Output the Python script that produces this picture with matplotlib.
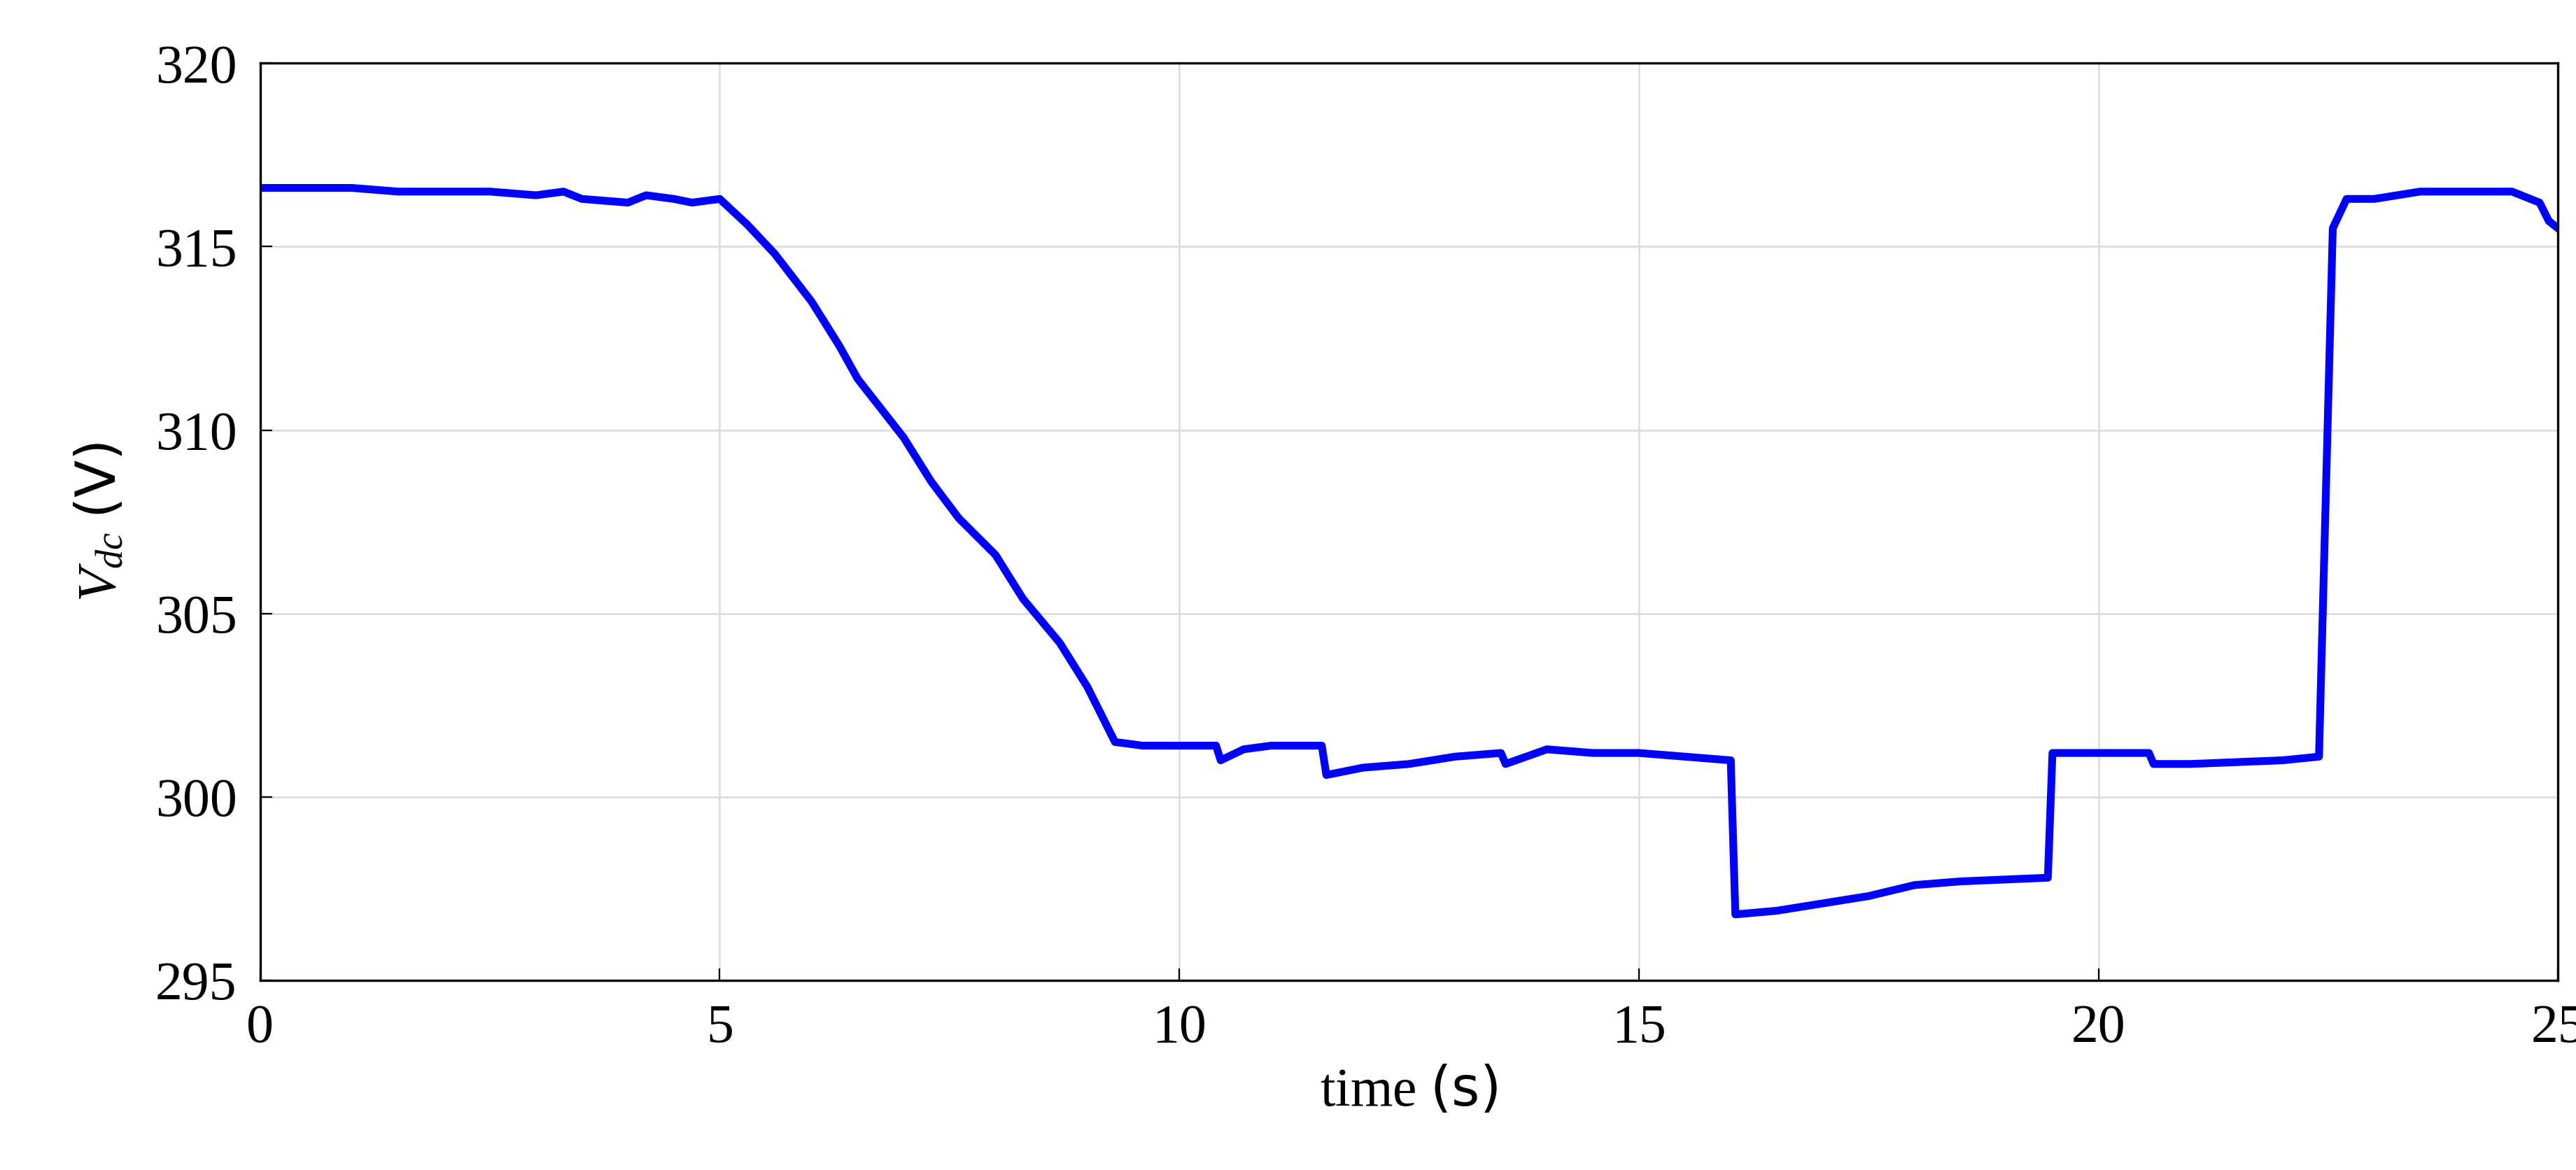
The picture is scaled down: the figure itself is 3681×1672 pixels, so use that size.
import matplotlib.pyplot as plt

# 读取图中的数据点（估计值）
t = [0, 0.5, 1, 1.5, 2, 2.5, 3, 3.3, 3.5, 4, 4.2, 4.5, 4.7, 5, 5.3, 5.6, 6, 6.3, 6.5, 7,
     7.3, 7.6, 8, 8.3, 8.7, 9, 9.3, 9.6, 10, 10.4, 10.45, 10.7, 11, 11.55, 11.6, 12, 12.5,
     13, 13.5, 13.55, 14, 14.5, 15, 15.5, 16, 16.05, 16.5, 17, 17.5, 18, 18.5, 19.45,
     19.5, 20, 20.55, 20.6, 21, 22, 22.4, 22.55, 22.7, 23, 23.5, 24, 24.5, 24.8, 24.9, 25]
vdc = [316.6, 316.6, 316.6, 316.5, 316.5, 316.5, 316.4, 316.5, 316.3, 316.2, 316.4, 316.3,
       316.2, 316.3, 315.6, 314.8, 313.5, 312.3, 311.4, 309.8, 308.6, 307.6, 306.6, 305.4,
       304.2, 303.0, 301.5, 301.4, 301.4, 301.4, 301.0, 301.3, 301.4, 301.4, 300.6, 300.8,
       300.9, 301.1, 301.2, 300.9, 301.3, 301.2, 301.2, 301.1, 301.0, 296.8, 296.9, 297.1,
       297.3, 297.6, 297.7, 297.8, 301.2, 301.2, 301.2, 300.9, 300.9, 301.0, 301.1, 315.5,
       316.3, 316.3, 316.5, 316.5, 316.5, 316.2, 315.7, 315.5]
xticks = [0, 5, 10, 15, 20, 25]
yticks = [295, 300, 305, 310, 315, 320]

plt.rcParams['font.family'] = ['Liberation Serif']
plt.rcParams['mathtext.fontset'] = 'custom'
plt.rcParams['mathtext.rm'] = 'Liberation Serif'
plt.rcParams['mathtext.it'] = 'Liberation Serif:italic'
plt.rcParams['mathtext.sf'] = 'DejaVu Sans'

fig = plt.figure(figsize=(18.405, 8.36), dpi=200)
ax = fig.add_axes([0.101, 0.162, 0.892, 0.784])
ax.plot(t, vdc, color='#0000ff', linewidth=4)
ax.set_xlim(0, 25)
ax.set_ylim(295, 320)
ax.set_xticks(xticks)
ax.set_yticks(yticks)
ax.grid(True, color='#dddddd', linewidth=1)
ax.tick_params(direction='in', length=6, labelsize=28, pad=12)
for s in ax.spines.values():
    s.set_linewidth(1.2)
ax.set_xlabel('time $\\mathsf{(s)}$', fontsize=28, labelpad=6)
ax.set_ylabel('$V_{dc}\\ \\mathsf{(V)}$', fontsize=28, labelpad=14)
fig.savefig('out.png', dpi=200)
